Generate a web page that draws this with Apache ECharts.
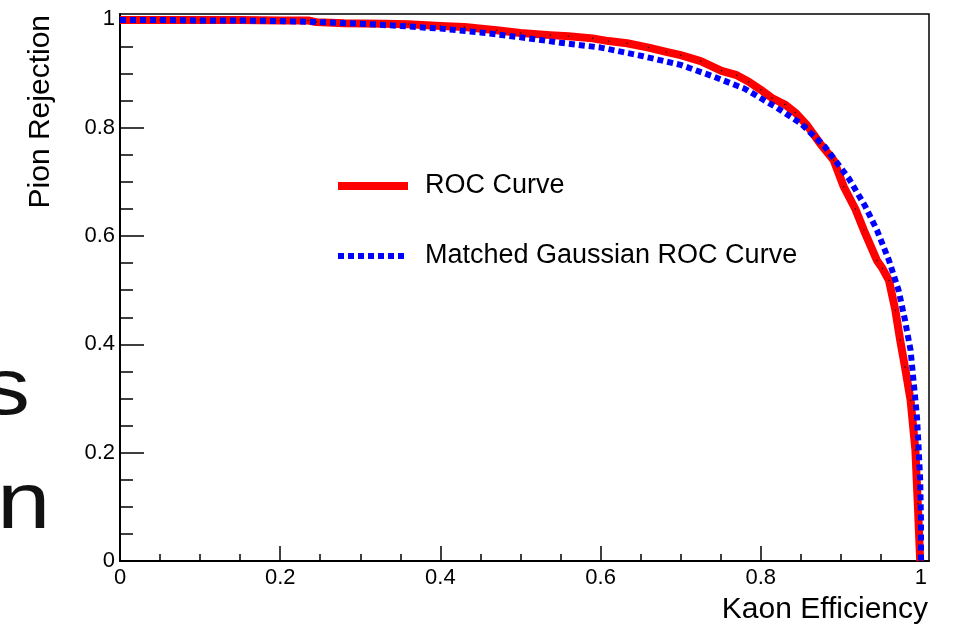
<!DOCTYPE html>
<html>
<head>
<meta charset="utf-8">
<script src="https://cdn.jsdelivr.net/npm/echarts@6/dist/echarts.min.js"></script>
<style>
  html, body { margin: 0; padding: 0; background: #ffffff; }
  #chart { width: 954px; height: 626px; }
</style>
</head>
<body>
<div id="chart"></div>
<script>
// Series names shown in the legend
const seriesNames = ['ROC Curve', 'Matched Gaussian ROC Curve'];

// Measured ROC curve: [kaon efficiency, pion rejection]
const rocCurve = [
  [0.000, 0.999], [0.050, 0.999], [0.100, 0.999], [0.150, 0.999], [0.200, 0.998],
  [0.235, 0.998], [0.245, 0.995], [0.280, 0.993], [0.330, 0.992], [0.360, 0.991],
  [0.400, 0.988], [0.430, 0.986], [0.470, 0.980], [0.500, 0.975], [0.537, 0.971],
  [0.560, 0.969], [0.590, 0.965], [0.610, 0.960], [0.633, 0.956], [0.660, 0.948],
  [0.682, 0.940], [0.700, 0.934], [0.725, 0.923], [0.751, 0.905], [0.770, 0.897],
  [0.785, 0.885], [0.800, 0.870], [0.814, 0.855], [0.830, 0.843], [0.843, 0.828],
  [0.8575, 0.805], [0.874, 0.771], [0.891, 0.740], [0.9036, 0.691], [0.918, 0.650],
  [0.9286, 0.611], [0.945, 0.555], [0.952, 0.540], [0.960, 0.518], [0.968, 0.463],
  [0.974, 0.408], [0.980, 0.358], [0.987, 0.297], [0.993, 0.205], [0.996, 0.106],
  [0.999, 0.000]
];

// Gaussian-matched ROC curve: [kaon efficiency, pion rejection]
const gaussianCurve = [
  [0.000, 0.999], [0.050, 0.999], [0.100, 0.998], [0.150, 0.998], [0.200, 0.997],
  [0.250, 0.995], [0.300, 0.992], [0.350, 0.988], [0.400, 0.983], [0.450, 0.976],
  [0.500, 0.967], [0.550, 0.957], [0.600, 0.948], [0.650, 0.933], [0.700, 0.916],
  [0.740, 0.895], [0.780, 0.872], [0.820, 0.837], [0.850, 0.808], [0.880, 0.765],
  [0.910, 0.706], [0.930, 0.656], [0.945, 0.611], [0.960, 0.555], [0.972, 0.500],
  [0.980, 0.445], [0.987, 0.389], [0.991, 0.328], [0.995, 0.266], [0.997, 0.210],
  [0.999, 0.150], [1.000, 0.075], [1.000, 0.000]
];

// Axis ticks and their labels
const xMajorTicks = [0, 0.2, 0.4, 0.6, 0.8, 1.0];
const xTickLabels = ['0', '0.2', '0.4', '0.6', '0.8', '1'];
const xMinorTicks = [0.05, 0.1, 0.15, 0.25, 0.3, 0.35, 0.45, 0.5, 0.55, 0.65, 0.7, 0.75, 0.85, 0.9, 0.95];
const yMajorTicks = [0, 0.2, 0.4, 0.6, 0.8, 1.0];
const yTickLabels = ['0', '0.2', '0.4', '0.6', '0.8', '1'];
const yMinorTicks = [0.05, 0.1, 0.15, 0.25, 0.3, 0.35, 0.45, 0.5, 0.55, 0.65, 0.7, 0.75, 0.85, 0.9, 0.95];
const axisMin = 0;
const axisMax = 1.01;

// Titles and the slide lettering peeking in at the left edge
const xTitle = 'Kaon Efficiency';
const yTitle = 'Pion Rejection';
const backdropLetters = ['s', 'n'];

const FONT = '"Liberation Sans", Arial, Helvetica, sans-serif';

function labelLookup(values, labels) {
  return function (v) {
    const i = values.findIndex(t => Math.abs(t - v) < 1e-6);
    return i < 0 ? '' : labels[i];
  };
}

function valueAxis(pos, ticks, labels, tickLen, showLine) {
  return {
    type: 'value',
    position: pos,
    min: axisMin,
    max: axisMax,
    axisLine: { show: showLine, onZero: false, lineStyle: { color: '#000', width: 2 } },
    axisTick: {
      show: true, inside: true, length: tickLen, customValues: ticks,
      lineStyle: { color: '#000', width: 1.5 }
    },
    axisLabel: labels ? {
      show: true, customValues: ticks, formatter: labelLookup(ticks, labels),
      color: '#000', fontFamily: FONT, fontSize: 22,
      margin: pos === 'bottom' ? 6 : 5
    } : { show: false },
    splitLine: { show: false },
    minorTick: { show: false },
    minorSplitLine: { show: false }
  };
}

const chart = echarts.init(document.getElementById('chart'), null, { renderer: 'canvas' });

chart.setOption({
  animation: false,
  backgroundColor: '#ffffff',
  grid: {
    left: 120, right: 25, top: 14, bottom: 65,
    show: true, borderColor: '#000', borderWidth: 1.5, backgroundColor: 'transparent'
  },
  xAxis: [
    valueAxis('bottom', xMajorTicks, xTickLabels, 15, true),
    valueAxis('bottom', xMinorTicks, null, 7, false)
  ],
  yAxis: [
    valueAxis('left', yMajorTicks, yTickLabels, 24, true),
    valueAxis('left', yMinorTicks, null, 13, false)
  ],
  legend: {
    orient: 'vertical',
    left: 334,
    top: 171,
    padding: 0,
    itemWidth: 70,
    itemHeight: 8,
    itemGap: 40,
    selectedMode: false,
    itemStyle: { opacity: 0 },
    lineStyle: { width: 'inherit' },
    textStyle: { fontFamily: FONT, fontSize: 27, color: '#000', lineHeight: 30, padding: [0, 0, 0, 12] },
    data: seriesNames
  },
  series: [
    {
      type: 'line',
      name: seriesNames[0],
      data: rocCurve,
      xAxisIndex: 0, yAxisIndex: 0,
      symbol: 'circle', symbolSize: 1.5, showSymbol: true, showAllSymbol: true,
      itemStyle: { color: '#000' },
      lineStyle: { color: '#ff0000', width: 8, join: 'round' },
      clip: false, silent: true, z: 2
    },
    {
      type: 'line',
      name: seriesNames[1],
      data: gaussianCurve,
      xAxisIndex: 0, yAxisIndex: 0,
      symbol: 'none',
      itemStyle: { color: '#0000ff' },
      lineStyle: { color: '#0000ff', width: 6, type: [6, 4], cap: 'butt' },
      clip: false, silent: true, z: 3
    }
  ],
  graphic: [
    {
      type: 'text', x: -18, y: 392, scaleX: 1.2, silent: true,
      style: { text: backdropLetters[0], font: '80px ' + FONT, fill: '#111', verticalAlign: 'middle', align: 'left' }
    },
    {
      type: 'text', x: -3, y: 506, scaleX: 1.2, silent: true,
      style: { text: backdropLetters[1], font: '80px ' + FONT, fill: '#111', verticalAlign: 'middle', align: 'left' }
    },
    {
      type: 'text', x: 41, y: 15, rotation: Math.PI / 2, silent: true,
      style: { text: yTitle, font: '30px ' + FONT, fill: '#000', align: 'right', verticalAlign: 'middle' }
    },
    {
      type: 'text', x: 928, y: 610, silent: true,
      style: { text: xTitle, font: '30px ' + FONT, fill: '#000', align: 'right', verticalAlign: 'middle' }
    }
  ]
});
</script>
</body>
</html>
